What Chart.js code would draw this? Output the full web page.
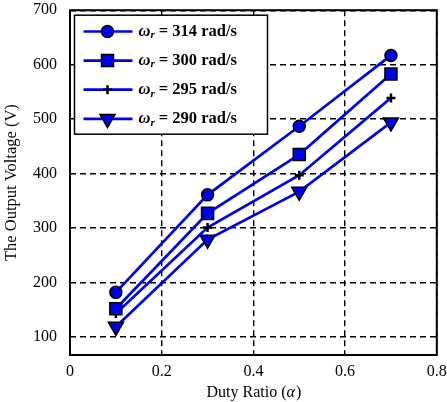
<!DOCTYPE html>
<html>
<head>
<meta charset="utf-8">
<script src="https://cdn.jsdelivr.net/npm/chart.js@4/dist/chart.umd.min.js"></script>
<style>
  html, body { margin: 0; padding: 0; background: #fff; }
  #wrap { width: 447px; height: 402px; }
</style>
</head>
<body>
<div id="wrap"><canvas id="chart" width="447" height="402"></canvas></div>
<script>
// duty ratio values on the x axis
const dutyRatio = [0.1, 0.3, 0.5, 0.7];

// output voltage (V) for each rotor speed
const w314 = [182, 361, 487, 617];
const w300 = [152, 327, 435, 583];
const w295 = [143, 301, 397, 539];
const w290 = [119, 279, 367, 494];

const seriesNames = ['314', '300', '295', '290'];
const xTicks = [0, 0.2, 0.4, 0.6, 0.8];
const yTicks = [100, 200, 300, 400, 500, 600, 700];

const FONT = "'Liberation Serif', 'Times New Roman', serif";
const BLUE = '#0000f0';

const styles = [
  { pointStyle: 'circle', radius: 6, rotation: 0, fill: BLUE, border: '#000', bw: 1.5 },
  { pointStyle: 'rect', radius: 8.5, rotation: 0, fill: BLUE, border: '#000', bw: 1.5 },
  { pointStyle: 'cross', radius: 4.5, rotation: 0, fill: '#000', border: '#000', bw: 2.5 },
  { pointStyle: 'triangle', radius: 8.7, rotation: 180, fill: BLUE, border: '#000', bw: 1.5 }
];

function toPoints(vals) {
  return dutyRatio.map((x, i) => ({ x: x, y: vals[i] }));
}

const allSeries = [w314, w300, w295, w290];
const datasets = allSeries.map((vals, i) => ({
  label: 'ωr = ' + seriesNames[i] + ' rad/s',
  data: toPoints(vals),
  borderColor: BLUE,
  borderWidth: 2.7,
  backgroundColor: styles[i].fill,
  pointStyle: styles[i].pointStyle,
  pointRadius: styles[i].radius,
  pointRotation: styles[i].rotation,
  pointBackgroundColor: styles[i].fill,
  pointBorderColor: styles[i].border,
  pointBorderWidth: styles[i].bw,
  pointHoverRadius: styles[i].radius,
  tension: 0
}));

// frame, legend box and x axis title
const extras = {
  id: 'extras',
  afterDraw(chart) {
    const ctx = chart.ctx;
    const a = chart.chartArea;
    ctx.save();
    ctx.setLineDash([]);
    ctx.strokeStyle = '#000';
    ctx.lineWidth = 2;
    ctx.strokeRect(a.left, a.top, a.right - a.left, a.bottom - a.top);

    // legend
    const bx = a.left + 4.5, by = a.top + 5, bw = 193, bh = 119;
    ctx.fillStyle = '#fff';
    ctx.fillRect(bx, by, bw, bh);
    ctx.lineWidth = 1.5;
    ctx.strokeRect(bx, by, bw, bh);

    for (let i = 0; i < seriesNames.length; i++) {
      const ry = a.top + 21.3 + i * 29.1;
      ctx.strokeStyle = BLUE;
      ctx.lineWidth = 2.7;
      ctx.beginPath();
      ctx.moveTo(bx + 9, ry);
      ctx.lineTo(bx + 58, ry);
      ctx.stroke();

      const s = styles[i];
      ctx.fillStyle = s.fill;
      ctx.strokeStyle = s.border;
      ctx.lineWidth = s.bw;
      Chart.helpers.drawPoint(ctx, { pointStyle: s.pointStyle, radius: s.radius, rotation: s.rotation, borderWidth: s.bw }, bx + 33, ry);

      let tx = bx + 64;
      ctx.fillStyle = '#000';
      ctx.textBaseline = 'middle';
      ctx.textAlign = 'left';
      ctx.font = 'italic bold 16.5px ' + FONT;
      ctx.fillText('ω', tx, ry);
      tx += ctx.measureText('ω').width;
      ctx.font = 'italic bold 11px ' + FONT;
      ctx.fillText('r', tx, ry + 4);
      tx += ctx.measureText('r').width;
      ctx.font = 'bold 16.5px ' + FONT;
      ctx.fillText(' = ' + seriesNames[i] + ' rad/s', tx, ry);
    }

    // x axis title with italic alpha
    const p1 = 'Duty Ratio (', p2 = 'α', p3 = ')';
    ctx.font = '16px ' + FONT;
    const w1 = ctx.measureText(p1).width;
    const w3 = ctx.measureText(p3).width;
    ctx.font = 'italic 16px ' + FONT;
    const w2 = ctx.measureText(p2).width;
    let x0 = (a.left + a.right) / 2 - (w1 + w2 + w3) / 2;
    const ty = 393;
    ctx.fillStyle = '#000';
    ctx.textBaseline = 'middle';
    ctx.font = '16px ' + FONT;
    ctx.fillText(p1, x0, ty);
    ctx.font = 'italic 16px ' + FONT;
    ctx.fillText(p2, x0 + w1, ty);
    ctx.font = '16px ' + FONT;
    ctx.fillText(p3, x0 + w1 + w2 + 1, ty);
    ctx.restore();
  }
};

const ctx = document.getElementById('chart').getContext('2d');
const chart = new Chart(ctx, {
  type: 'line',
  data: { datasets: datasets },
  options: {
    responsive: false,
    animation: false,
    layout: { padding: { top: 8, right: 7, left: 0, bottom: 0 } },
    plugins: {
      legend: { display: false },
      tooltip: { enabled: false }
    },
    scales: {
      x: {
        type: 'linear',
        min: 0,
        max: 0.8,
        afterBuildTicks: (s) => { s.ticks = xTicks.map(v => ({ value: v })); },
        afterFit: (s) => { s.height = 47; s.paddingLeft = 0; s.paddingRight = 0; },
        grid: { color: '#000', lineWidth: 1.4, drawTicks: false },
        border: { display: false, dash: [6, 4] },
        ticks: {
          color: '#000',
          padding: 7,
          maxRotation: 0,
          font: { family: FONT, size: 16 },
          callback: (v) => String(v)
        }
      },
      y: {
        type: 'linear',
        min: 67,
        max: 700,
        afterBuildTicks: (s) => { s.ticks = yTicks.map(v => ({ value: v })); },
        afterFit: (s) => { s.width = 70; s.paddingTop = 0; s.paddingBottom = 0; },
        grid: { color: '#000', lineWidth: 1.4, drawTicks: false },
        border: { display: false, dash: [6, 4] },
        ticks: {
          color: '#000',
          padding: 13,
          font: { family: FONT, size: 16 }
        },
        title: {
          display: true,
          text: 'The Output Voltage (V)',
          color: '#000',
          padding: { top: 2, bottom: 0 },
          font: { family: FONT, size: 16.5 }
        }
      }
    }
  },
  plugins: [extras]
});
</script>
</body>
</html>
